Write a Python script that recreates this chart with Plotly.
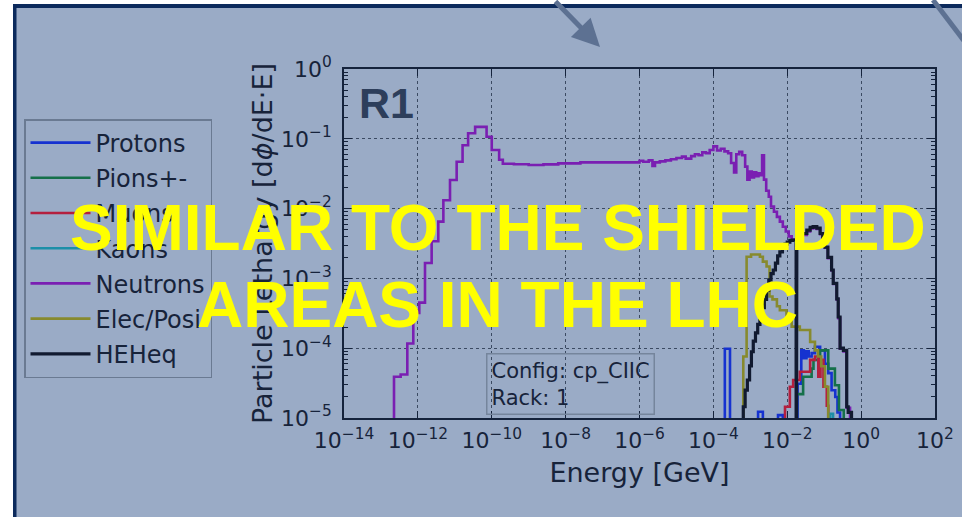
import numpy as np
import plotly.graph_objects as go

# ---------------------------------------------------------------------------
# Lethargy spectra per particle type (step histograms).
# Bin edges are given as log10(E / GeV); values are dphi/dE*E per bin.
# A value of 0 means an empty bin.
# ---------------------------------------------------------------------------
protons_edges = [-3.69, -3.55, -2.79, -2.66, -2.25, -2.12, -1.72, -1.62, -1.55, -1.48,
                 -1.42, -1.34, -1.25, -1.11, -0.98, -0.89, -0.80, -0.70, -0.64, -0.57]
protons_vals = [9.8e-5, 0, 1.23e-5, 0, 1.1e-5, 0, 3.1e-5, 9.3e-5, 7.2e-5, 9.0e-5,
                7.6e-5, 8.5e-5, 1.05e-4, 9.3e-5, 6.0e-5, 4.4e-5, 2.5e-5, 2.0e-5, 1.2e-5]

pions_edges = [-1.74, -1.57, -1.34, -1.29, -1.11, -0.89, -0.71, -0.60, -0.47]
pions_vals = [2.2e-5, 3.9e-5, 5.1e-5, 6.8e-5, 9.3e-5, 5.1e-5, 2.95e-5, 1.3e-5]

muons_edges = [-2.06, -1.93, -1.84, -1.66, -1.38, -1.25, -1.16, -1.10, -1.02, -0.93, -0.89]
muons_vals = [1.45e-5, 2.8e-5, 3.5e-5, 4.6e-5, 6.8e-5, 7.6e-5, 3.9e-5, 6.8e-5, 2.8e-5, 1.5e-5]

kaons_edges = [-0.84, -0.76]
kaons_vals = [1.15e-5]

neutrons_edges = [
    -12.646, -12.466, -12.286, -12.124, -11.962, -11.807, -11.627, -11.447, -11.31,
    -11.13, -10.95, -10.79, -10.64, -10.45, -10.14, -10.0, -9.80, -9.70,
    -9.4, -9.0, -8.6, -8.2, -7.6, -6.0,
    -5.9, -5.75, -5.65, -5.58, -5.45, -5.3, -5.15, -5.0, -4.85, -4.75, -4.6, -4.5,
    -4.4, -4.3, -4.2, -4.1, -4.0, -3.9, -3.8, -3.7, -3.6, -3.52, -3.44, -3.38,
    -3.30, -3.22, -3.14, -3.08, -3.02, -2.96, -2.90, -2.84, -2.78, -2.72, -2.68,
    -2.63, -2.57, -2.50, -2.44, -2.36, -2.28, -2.20, -2.12, -2.04, -1.96, -1.88, -1.74,
    -1.60, -1.47, -1.38, -1.30, -1.20, -1.11, -1.04, -0.98, -0.90, -0.80, -0.755,
    -0.66, -0.62, -0.57, -0.48, -0.39, -0.30]
neutrons_vals = [
    3.9e-5, 4.2e-5, 1.17e-4, 3.2e-4, 4.5e-4, 1.66e-3, 3.4e-3, 6.5e-3, 0.0132,
    0.0257, 0.0468, 0.081, 0.12, 0.148, 0.107, 0.069, 0.050,
    0.0440, 0.0432, 0.0422, 0.0430, 0.0445, 0.0460,
    0.0485, 0.0470, 0.0490, 0.0410, 0.0460, 0.0475, 0.0490, 0.0510, 0.0530, 0.0555,
    0.0520, 0.0565, 0.0600, 0.0580, 0.0640, 0.0620, 0.0690, 0.0780, 0.0680, 0.0720,
    0.0660, 0.0620, 0.0450, 0.0330, 0.0600, 0.0650, 0.0580, 0.0400, 0.0260, 0.0340,
    0.0280, 0.0330, 0.0290, 0.0320, 0.0300, 0.0580, 0.0260, 0.0180, 0.0148, 0.0107,
    0.0090, 0.0076, 0.0065, 0.0055, 0.0047, 0.0040, 0.0036,
    0.0038, 0.0042, 0.0047, 0.0052, 0.0053, 0.0051, 0.0043, 0.0035, 0.00275, 0.00195,
    0.0013, 0.00083, 0.00050, 0.00027, 0.000098, 0.000090, 0.000014]

elec_edges = [-3.19, -3.10, -2.98, -2.74, -2.66, -2.56, -2.48, -2.40, -2.28, -2.20,
              -2.02, -1.88, -1.66, -1.38, -1.25, -1.17, -1.08, -0.98, -0.89]
elec_vals = [7.6e-5, 2.04e-3, 2.2e-3, 2.04e-3, 1.74e-3, 1.48e-3, 5.5e-4, 5.0e-4, 4.0e-4,
             3.5e-4, 2.8e-4, 2.04e-4, 1.82e-4, 1.23e-4, 9.3e-5, 7.6e-5, 5.5e-5, 2.8e-5]

heheq_edges = [-3.19, -3.14, -3.08, -3.02, -2.97, -2.92, -2.86, -2.80, -2.74, -2.68,
               -2.62, -2.56, -2.50, -2.44, -2.38, -2.32, -2.26, -2.20, -2.13, -2.06,
               -2.00, -1.93, -1.86, -1.76, -1.74, -1.60, -1.47, -1.38, -1.30, -1.20,
               -1.11, -1.04, -0.98, -0.90, -0.80, -0.755, -0.66, -0.62, -0.57, -0.48,
               -0.39, -0.35, -0.26]
heheq_vals = [1.45e-5, 2.5e-5, 3.5e-5, 5.6e-5, 8.9e-5, 1.26e-4, 1.66e-4, 2.2e-4, 3.0e-4,
              3.8e-4, 5.0e-4, 6.8e-4, 9.5e-4, 1.17e-3, 1.32e-3, 1.66e-3, 2.1e-3, 2.4e-3,
              2.8e-3, 3.1e-3, 3.3e-3, 3.5e-3, 3.55e-3, 0, 4.0e-3, 4.4e-3, 4.9e-3, 5.4e-3,
              5.5e-3, 5.25e-3, 4.4e-3, 3.55e-3, 2.8e-3, 2.0e-3, 1.32e-3, 8.5e-4, 5.1e-4,
              2.8e-4, 1.0e-4, 9.3e-5, 1.45e-5, 1.2e-5]

series_names = ["Protons", "Pions+-", "Muons", "Kaons", "Neutrons", "Elec/Posi", "HEHeq"]
series_edges = [protons_edges, pions_edges, muons_edges, kaons_edges,
                neutrons_edges, elec_edges, heheq_edges]
series_vals = [protons_vals, pions_vals, muons_vals, kaons_vals,
               neutrons_vals, elec_vals, heheq_vals]
series_colors = ["#1632d0", "#15704a", "#b41f3e", "#1c8fa8", "#7a1fb2", "#878a2e", "#111a30"]
series_widths = [2.6, 2.6, 2.6, 2.6, 2.6, 2.6, 3.2]

x_tick_exponents = list(range(-14, 3, 2))
y_tick_exponents = list(range(-5, 1))

config_label = "Config: cp_CIIC<br>Rack: 1"
region_label = "R1"
overlay_lines = ["SIMILAR TO THE SHIELDED", "AREAS IN THE LHC"]

FLOOR = 1e-8  # empty bins are drawn below the visible range


def step_xy(log_edges, vals):
    """Outline of a step histogram, closed down to the floor at both ends."""
    e = 10.0 ** np.asarray(log_edges, dtype=float)
    v = np.asarray(vals, dtype=float)
    assert len(e) == len(v) + 1
    v = np.where(v > 0, v, FLOOR)
    x = np.repeat(e, 2)
    y = np.concatenate([[FLOOR], np.repeat(v, 2), [FLOOR]])
    return x, y


W, H = 962, 517
BG = "#9aabc6"
INK = "#17233a"
FONT = "DejaVu Sans"


def px(x):
    return x / W


def py(y):
    return 1 - y / H


fig = go.Figure()
for name, e, v, c, w in zip(series_names, series_edges, series_vals,
                            series_colors, series_widths):
    x, y = step_xy(e, v)
    fig.add_trace(go.Scatter(x=x, y=y, mode="lines", name=name, legendgroup=name,
                             line=dict(color=c, width=w), hoverinfo="skip"))

axis_common = dict(
    type="log", showline=True, linecolor="#15233c", linewidth=1.6, mirror="allticks",
    ticks="inside", tickcolor="#15233c", tickwidth=1.2, automargin=False,
    showgrid=True, gridcolor="#3b4a62", griddash="dot", gridwidth=1,
    zeroline=False, tickfont=dict(family=FONT, size=22, color=INK),
)

fig.update_layout(
    width=W, height=H, margin=dict(l=0, r=0, t=0, b=0, autoexpand=False),
    paper_bgcolor=BG, plot_bgcolor="rgba(0,0,0,0)",
    xaxis=dict(
        axis_common, domain=[px(344), px(935)], range=[-14, 2],
        tickmode="array", tickvals=[10.0 ** k for k in x_tick_exponents],
        ticktext=[f"10<sup>{str(k).replace('-', '−')}</sup>" for k in x_tick_exponents],
        ticklen=7, ticklabelstandoff=2,
        title=dict(text="Energy [GeV]", font=dict(family=FONT, size=27, color=INK),
                   standoff=11),
    ),
    yaxis=dict(
        axis_common, domain=[py(418), py(69)], range=[-5, 0],
        tickmode="array", tickvals=[10.0 ** k for k in y_tick_exponents],
        ticktext=[f"10<sup>{str(k).replace('-', '−')}</sup>" for k in y_tick_exponents],
        ticklen=8, ticklabelstandoff=6,
        minor=dict(ticks="inside", ticklen=4, tickcolor="#15233c", showgrid=False,
                   tickmode="array",
                   tickvals=[m * 10.0 ** k for k in range(-5, 0) for m in range(2, 10)]),
        title=dict(text="Particle Lethargy [d<i>ϕ</i>/dE·E]",
                   font=dict(family=FONT, size=27, color=INK), standoff=1),
    ),
    showlegend=True,
    legend=dict(
        x=px(24), y=py(119), xanchor="left", yanchor="top",
        bgcolor="rgba(0,0,0,0)", bordercolor="#6a7a92", borderwidth=1.5,
        font=dict(family=FONT, size=24, color=INK),
        tracegroupgap=1, itemwidth=60, traceorder="grouped",
    ),
)

# slide frame: white page edge, dark border, pointer arrows
fig.add_shape(type="rect", xref="paper", yref="paper", x0=0, x1=1, y0=py(4), y1=1,
              fillcolor="white", line_width=0, layer="below")
fig.add_shape(type="rect", xref="paper", yref="paper", x0=0, x1=px(13), y0=0, y1=1,
              fillcolor="white", line_width=0, layer="below")
fig.add_shape(type="rect", xref="paper", yref="paper", x0=px(13), x1=1, y0=py(8), y1=py(4),
              fillcolor="#0c2a5c", line_width=0)
fig.add_shape(type="rect", xref="paper", yref="paper", x0=px(13), x1=px(16.5), y0=0, y1=py(4),
              fillcolor="#0c2a5c", line_width=0)
fig.add_shape(type="line", xref="paper", yref="paper", x0=px(933), y0=1, x1=px(968), y1=py(46),
              line=dict(color="#5d7192", width=5))
fig.add_annotation(x=px(600), y=py(47), xref="paper", yref="paper", text="",
                   showarrow=True, ax=-46, ay=-52, arrowhead=2, arrowsize=1.1,
                   arrowwidth=5, arrowcolor="#5d7192")

# in-plot labels
fig.add_annotation(x=px(357), y=py(103), xref="paper", yref="paper", xanchor="left",
                   yanchor="middle", text=f"<b>{region_label}</b>", showarrow=False,
                   font=dict(family="Liberation Sans", size=43, color="#2d3e5b"))
fig.add_annotation(x=px(486), y=py(353), xref="paper", yref="paper", xanchor="left",
                   yanchor="top", text=config_label, showarrow=False, align="left",
                   font=dict(family=FONT, size=21, color=INK),
                   bordercolor="#75859c", borderwidth=1.5, borderpad=4)

# banner text across the chart
for line, yc in zip(overlay_lines, [227.5, 305]):
    fig.add_annotation(x=px(497.5), y=py(yc), xref="paper", yref="paper",
                       xanchor="center", yanchor="middle", text=f"<b>{line}</b>",
                       showarrow=False,
                       font=dict(family="Liberation Sans", size=64, color="#ffff00"))

fig.write_html("out.html")
